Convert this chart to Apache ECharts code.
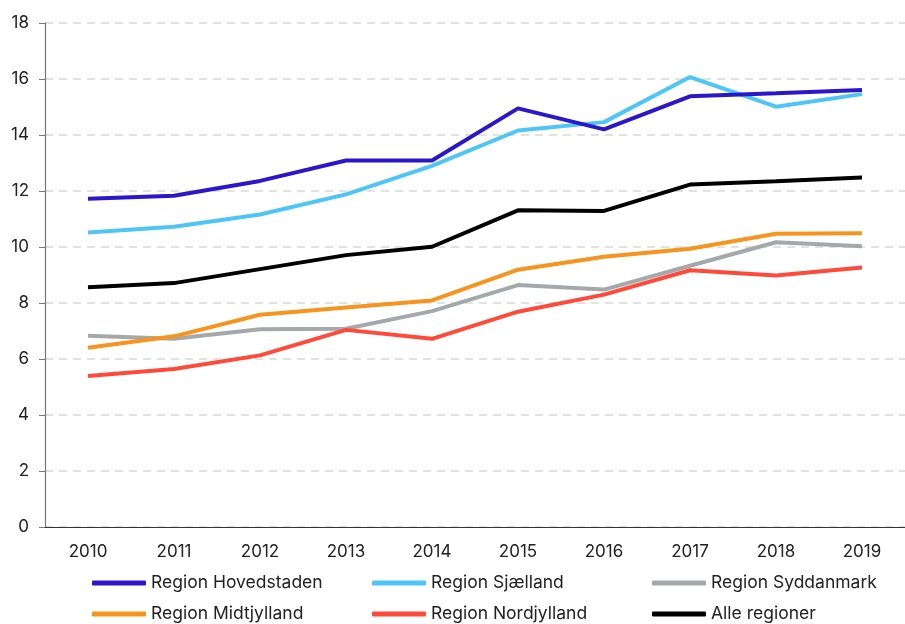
<!DOCTYPE html>
<html>
<head>
<meta charset="utf-8">
<script src="https://cdn.jsdelivr.net/npm/echarts@6/dist/echarts.min.js"></script>
<style>
  html, body { margin: 0; padding: 0; background: #fff; }
  #chart { width: 905px; height: 624px; }
</style>
</head>
<body>
<div id="chart"></div>
<script>
const years = ['2010', '2011', '2012', '2013', '2014', '2015', '2016', '2017', '2018', '2019']

const hovedstaden = [11.72, 11.83, 12.36, 13.09, 13.09, 14.95, 14.2, 15.38, 15.49, 15.61]
const sjaelland = [10.52, 10.72, 11.16, 11.88, 12.9, 14.16, 14.46, 16.07, 15.01, 15.46]
const syddanmark = [6.83, 6.72, 7.06, 7.08, 7.71, 8.64, 8.48, 9.33, 10.17, 10.03]
const midtjylland = [6.4, 6.81, 7.58, 7.84, 8.09, 9.19, 9.65, 9.94, 10.47, 10.49]
const nordjylland = [5.39, 5.64, 6.13, 7.04, 6.72, 7.69, 8.3, 9.17, 8.98, 9.27]
const alle = [8.56, 8.71, 9.21, 9.71, 10.01, 11.31, 11.29, 12.23, 12.35, 12.48]

const font = 'Inter, "Liberation Sans", sans-serif'

const line = (name, data, color) => ({
  name,
  type: 'line',
  data,
  color,
  showSymbol: false,
  lineStyle: { color, width: 4 },
  emphasis: { disabled: true }
})

const legendBase = {
  orient: 'vertical',
  top: 573,
  height: 60,
  padding: 0,
  itemWidth: 54,
  itemHeight: 5,
  itemGap: 11,
  icon: 'roundRect',
  textStyle: { fontFamily: font, fontSize: 17.5, color: '#222', lineHeight: 20 }
}

const chart = echarts.init(document.getElementById('chart'))
chart.setOption({
  animation: false,
  grid: { left: 45, top: 23, width: 865, height: 504 },
  xAxis: {
    type: 'category',
    data: years,
    boundaryGap: true,
    axisLine: { lineStyle: { color: '#333', width: 1.2 } },
    axisTick: { length: 6, lineStyle: { color: '#333' } },
    axisLabel: { fontFamily: font, fontSize: 17, color: '#222', margin: 16 }
  },
  yAxis: {
    type: 'value',
    min: 0,
    max: 18,
    interval: 2,
    axisLine: { show: true, lineStyle: { color: '#777', width: 1.2 } },
    axisTick: { show: true, length: 6, lineStyle: { color: '#777' } },
    axisLabel: { fontFamily: font, fontSize: 17, color: '#222', margin: 16 },
    splitLine: { lineStyle: { color: '#d9d9d9', type: [8, 6], width: 1.5 } }
  },
  legend: [
    { ...legendBase, left: 92, data: ['Region Hovedstaden', 'Region Midtjylland'] },
    { ...legendBase, left: 372, data: ['Region Sjælland', 'Region Nordjylland'] },
    { ...legendBase, left: 652, data: ['Region Syddanmark', 'Alle regioner'] }
  ],
  series: [
    line('Region Syddanmark', syddanmark, '#a3a9ab'),
    line('Region Midtjylland', midtjylland, '#f7941d'),
    line('Region Nordjylland', nordjylland, '#ff4a3a'),
    line('Alle regioner', alle, '#000000'),
    line('Region Sjælland', sjaelland, '#4dc6f7'),
    line('Region Hovedstaden', hovedstaden, '#2a17cc')
  ]
})
</script>
</body>
</html>
